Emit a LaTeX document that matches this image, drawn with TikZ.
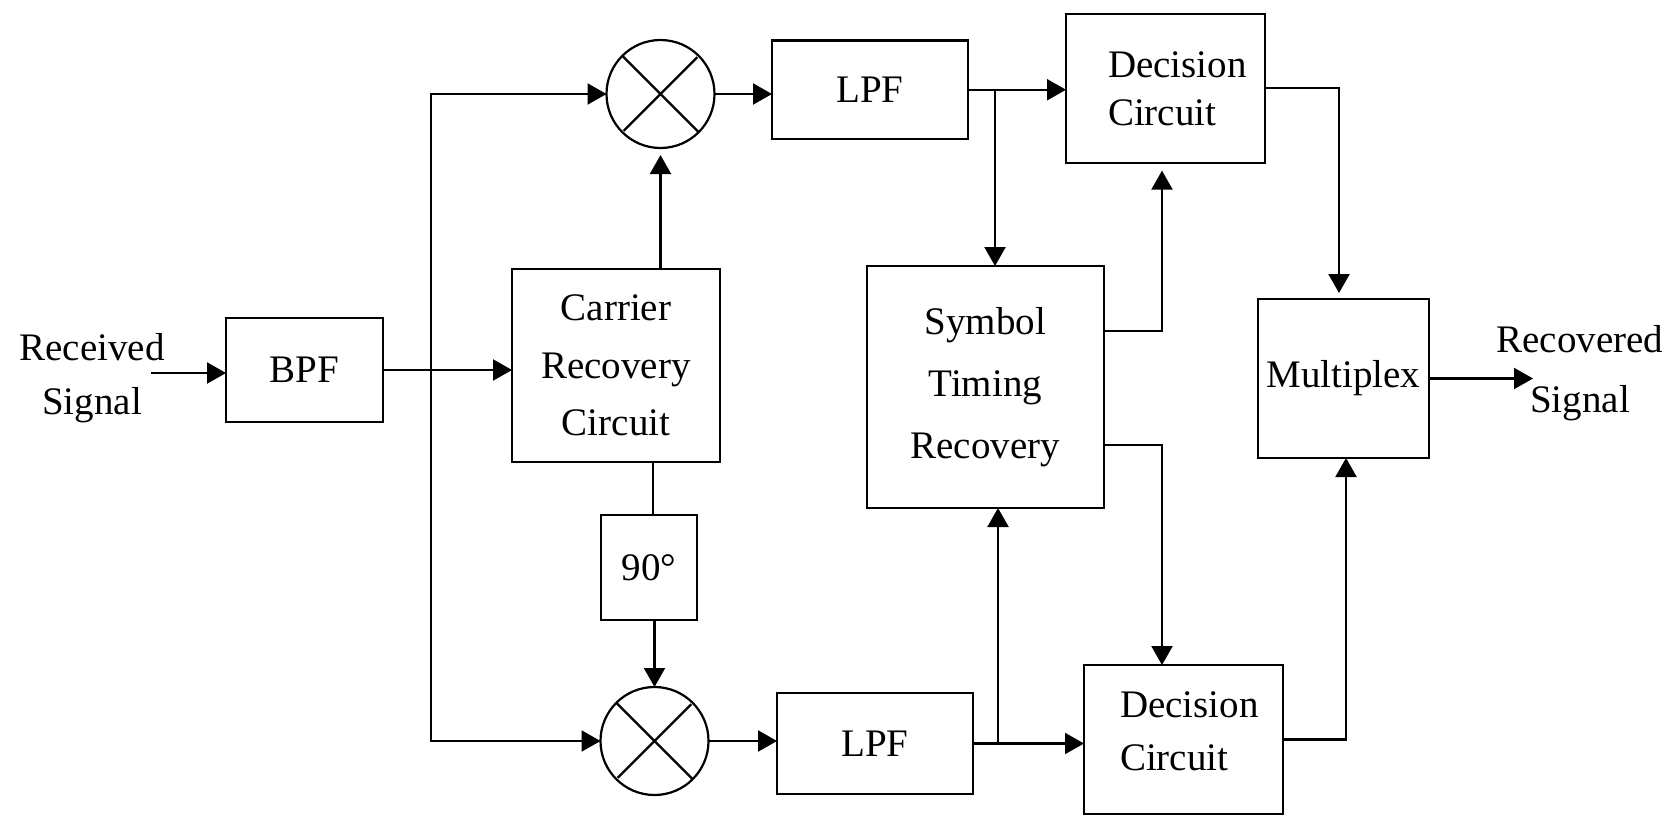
\documentclass[tikz,border=0pt]{standalone}
\usepackage{fontspec}
\setmainfont{Liberation Serif}
\usetikzlibrary{arrows.meta}
\begin{document}
\begin{tikzpicture}[x=1pt,y=-1pt, line width=2.2pt,
  box/.style={draw, rectangle, inner sep=0pt, outer sep=0pt, font=\fontsize{39}{47}\selectfont},
  mixer/.style={draw, circle, minimum size=108pt, inner sep=0pt, outer sep=0pt},
  arr/.style={-{Triangle[length=19pt,width=21pt]}},
  arrboth/.style={{Triangle[length=19pt,width=21pt]}-{Triangle[length=19pt,width=21pt]}},
  lbl/.style={inner sep=0pt, align=center}]
\useasboundingbox (0,0) rectangle (1667,816);

% labels and blocks
\node[lbl, font=\fontsize{39}{54}\selectfont] (rx) at (92,378) {Received\\Signal};
\node[box, minimum width=157pt, minimum height=104pt] (bpf) at (304.5,370) {BPF};
\node[box, minimum width=208pt, minimum height=193pt, align=center, font=\fontsize{39}{57.5}\selectfont] (crc) at (616,365.5) {Carrier\\Recovery\\Circuit};
\node[box, minimum width=96pt, minimum height=105pt] (ph) at (649,567.5) {90°};
\node[mixer] (mixT) at (660.5,94) {};
\node[mixer] (mixB) at (654.5,741) {};
\draw[shorten <=2pt, shorten >=2pt] (mixT.north west) -- (mixT.south east) (mixT.north east) -- (mixT.south west);
\draw[shorten <=2pt, shorten >=2pt] (mixB.north west) -- (mixB.south east) (mixB.north east) -- (mixB.south west);
\node[box, minimum width=196pt, minimum height=98.5pt] (lpfT) at (870,89.75) {LPF};
\node[box, minimum width=196pt, minimum height=101pt] (lpfB) at (875,743.5) {LPF};
\node[box, minimum width=199pt, minimum height=148.7pt, text width=115pt, align=left, font=\fontsize{39}{48}\selectfont] (decT) at (1165.5,88.3) {\mbox{Decision}\\\mbox{Circuit}};
\node[box, minimum width=237.3pt, minimum height=242pt, align=center, font=\fontsize{39}{61.7}\selectfont] (str) at (985.3,387) {Symbol\\Timing\\Recovery};
\node[box, minimum width=199pt, minimum height=149pt, text width=127pt, align=left, text depth=69pt, font=\fontsize{39}{53}\selectfont] (decB) at (1183.5,739.5) {\mbox{Decision}\\\mbox{Circuit}};
\node[box, minimum width=171pt, minimum height=159pt] (mux) at (1343.5,378.5) {Multiplex};
\node[lbl, font=\fontsize{39}{60}\selectfont] (rxo) at (1580,372.7) {Recovered\\Signal};

% connectors
\coordinate (in) at (151,373);
\draw[arr] (in) -- (in -| bpf.west);
\draw[arr] (bpf.east) -- (bpf.east -| crc.west);
\coordinate (bus) at (430.7,370);
\draw[arrboth] (mixT.west) -- (mixT.west -| bus) -- (mixB.west -| bus) -- (mixB.west);
\draw[arr, shorten >=7pt] (crc.north -| mixT.south) -- (mixT.south);
\draw (crc.south -| 653,0) -- (ph.north -| 653,0);
\draw[arr] (ph.south -| mixB.north) -- (mixB.north);
\draw[arr] (mixT.east) -- (mixT.east -| lpfT.west);
\draw[arr] (mixB.east) -- (mixB.east -| lpfB.west);
\draw[arr] (lpfT.east) -- (lpfT.east -| decT.west);
\coordinate (tapT) at (lpfT.east -| 995,0);
\draw[arr] (tapT) -- (tapT |- str.north);
\draw[arr] (lpfB.east) -- (lpfB.east -| decB.west);
\coordinate (tapB) at (lpfB.east -| 998,0);
\draw[arr] (tapB) -- (tapB |- str.south);
\draw[arr, shorten >=8pt] ([yshift=56pt]str.east) -| ([xshift=-3.5pt]decT.south);
\draw[arr] ([yshift=-58pt]str.east) -| ([xshift=-21.5pt]decB.north);
\draw[arr, shorten >=6pt] (decT.east) -| ([xshift=-4.5pt]mux.north);
\draw[arr] (decB.east) -| ([xshift=2.5pt]mux.south);
\coordinate (out) at (1533,378.5);
\draw[arr] (mux.east) -- (out);
\end{tikzpicture}
\end{document}
